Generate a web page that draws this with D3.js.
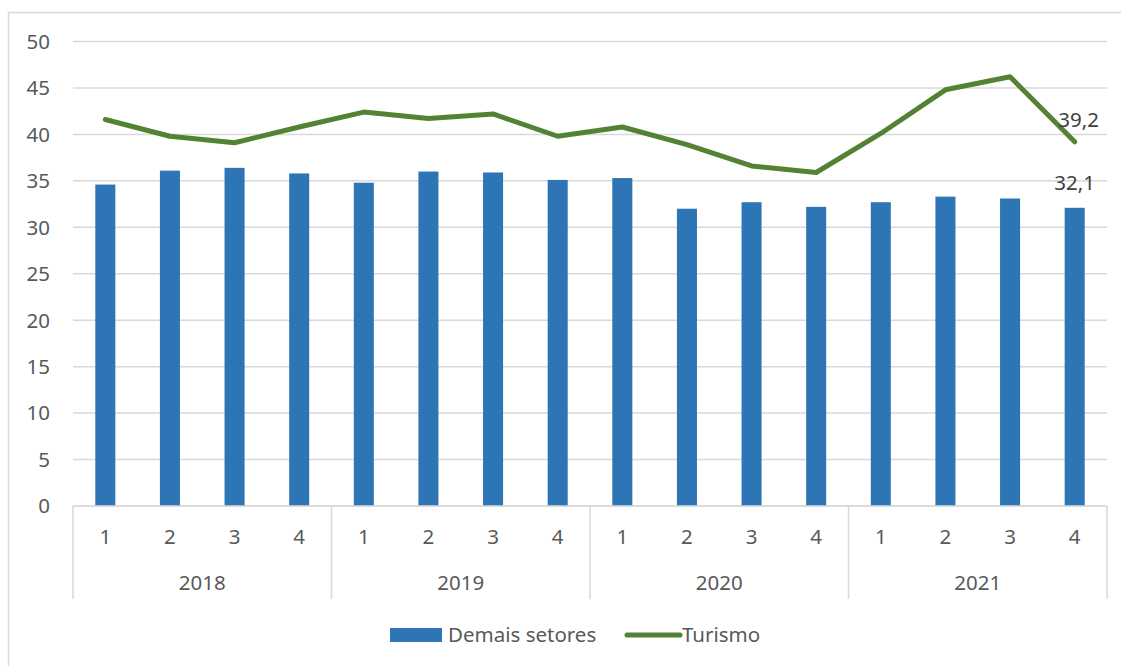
<!DOCTYPE html>
<meta charset="utf-8">
<style>

body {
  margin: 0;
  background: #fff;
}

svg text {
  font-family: "Noto Sans", "Open Sans", sans-serif;
  fill: #595959;
}

.grid line {
  stroke: #d9d9d9;
  stroke-width: 1.5;
}

</style>

<body>
  <svg width="1121" height="666"></svg>

  <script src="https://cdn.jsdelivr.net/npm/d3@7"></script>
  <script>

  var years = ["2018", "2019", "2020", "2021"];
  var quarters = ["1", "2", "3", "4"];

  // Demais setores (bars)
  var demais = [34.6, 36.1, 36.4, 35.8, 34.8, 36.0, 35.9, 35.1,
                35.3, 32.0, 32.7, 32.2, 32.7, 33.3, 33.1, 32.1];

  // Turismo (line)
  var turismo = [41.6, 39.8, 39.1, 40.8, 42.4, 41.7, 42.2, 39.8,
                 40.8, 38.9, 36.6, 35.9, 40.1, 44.8, 46.2, 39.2];

  var yTicks = [0, 5, 10, 15, 20, 25, 30, 35, 40, 45, 50];

  var svg = d3.select("svg"),
      margin = {top: 41.5, left: 73, right: 14},
      width = +svg.attr("width") - margin.left - margin.right,
      height = 506 - margin.top,
      fs = "20.5px";

  var ptFormat = d3.formatLocale({decimal: ",", thousands: ".", grouping: [3], currency: ["R$", ""]}).format(".1f");

  // outer chart border
  svg.append("rect")
      .attr("x", 8.5)
      .attr("y", 12.5)
      .attr("width", 1140)
      .attr("height", 700)
      .attr("fill", "none")
      .attr("stroke", "#d9d9d9")
      .attr("stroke-width", 1.5);

  var cats = [];
  years.forEach(function(yr) {
    quarters.forEach(function(q) { cats.push(yr + "-" + q); });
  });

  var x = d3.scaleBand()
      .domain(cats)
      .range([0, width])
      .padding(0);

  var y = d3.scaleLinear()
      .domain([0, 50])
      .range([height, 0]);

  var g = svg.append("g")
      .attr("transform", "translate(" + margin.left + "," + margin.top + ")");

  // gridlines
  g.append("g")
      .attr("class", "grid")
    .selectAll("line")
    .data(yTicks)
    .enter().append("line")
      .attr("x1", 0)
      .attr("x2", width)
      .attr("y1", function(d) { return y(d); })
      .attr("y2", function(d) { return y(d); });

  // y axis labels
  g.append("g")
      .selectAll("text")
      .data(yTicks)
      .enter().append("text")
        .attr("x", -23)
        .attr("y", function(d) { return y(d); })
        .attr("dy", "0.36em")
        .attr("text-anchor", "end")
        .style("font-size", fs)
        .text(function(d) { return d; });

  // bars
  var barW = x.bandwidth() * 0.31;
  g.append("g")
    .selectAll("rect")
    .data(demais)
    .enter().append("rect")
      .attr("x", function(d, i) { return x(cats[i]) + x.bandwidth() / 2 - barW / 2; })
      .attr("y", function(d) { return y(d); })
      .attr("width", barW)
      .attr("height", function(d) { return height - y(d); })
      .attr("fill", "#2e75b6");

  // line
  var line = d3.line()
      .x(function(d, i) { return x(cats[i]) + x.bandwidth() / 2; })
      .y(function(d) { return y(d); });

  g.append("path")
      .datum(turismo)
      .attr("fill", "none")
      .attr("stroke", "#548235")
      .attr("stroke-width", 5)
      .attr("stroke-linejoin", "round")
      .attr("stroke-linecap", "round")
      .attr("d", line);

  // data labels for last point
  var last = cats.length - 1,
      lastX = x(cats[last]) + x.bandwidth() / 2;

  g.append("text")
      .attr("x", lastX + 4)
      .attr("y", y(turismo[last]) - 22)
      .attr("dy", "0.36em")
      .attr("text-anchor", "middle")
      .style("font-size", fs)
      .style("fill", "#404040")
      .text(ptFormat(turismo[last]));

  g.append("text")
      .attr("x", lastX)
      .attr("y", y(demais[last]) - 25)
      .attr("dy", "0.36em")
      .attr("text-anchor", "middle")
      .style("font-size", fs)
      .style("fill", "#404040")
      .text(ptFormat(demais[last]));

  // category axis (two levels)
  var xa = g.append("g")
      .attr("class", "grid")
      .attr("transform", "translate(0," + height + ")");

  xa.append("line")
      .attr("x1", 0)
      .attr("x2", width)
      .attr("y1", 0)
      .attr("y2", 0);

  var yearW = x.bandwidth() * quarters.length;
  xa.selectAll(".sep")
    .data(d3.range(years.length + 1))
    .enter().append("line")
      .attr("class", "sep")
      .attr("x1", function(d) { return d * yearW; })
      .attr("x2", function(d) { return d * yearW; })
      .attr("y1", 0)
      .attr("y2", 93);

  xa.selectAll(".qlab")
    .data(cats)
    .enter().append("text")
      .attr("class", "qlab")
      .attr("x", function(d) { return x(d) + x.bandwidth() / 2; })
      .attr("y", 31)
      .attr("dy", "0.36em")
      .attr("text-anchor", "middle")
      .style("font-size", fs)
      .text(function(d) { return d.split("-")[1]; });

  xa.selectAll(".ylab")
    .data(years)
    .enter().append("text")
      .attr("class", "ylab")
      .attr("x", function(d, i) { return i * yearW + yearW / 2; })
      .attr("y", 77)
      .attr("dy", "0.36em")
      .attr("text-anchor", "middle")
      .style("font-size", fs)
      .text(function(d) { return d; });

  // legend
  var legend = svg.append("g")
      .attr("transform", "translate(390,635)");

  legend.append("rect")
      .attr("x", 0)
      .attr("y", -7)
      .attr("width", 52)
      .attr("height", 14)
      .attr("fill", "#2e75b6");

  legend.append("text")
      .attr("x", 58)
      .attr("y", 0)
      .attr("dy", "0.36em")
      .style("font-size", fs)
      .text("Demais setores");

  legend.append("line")
      .attr("x1", 237)
      .attr("x2", 290)
      .attr("y1", 0)
      .attr("y2", 0)
      .attr("stroke", "#548235")
      .attr("stroke-width", 5)
      .attr("stroke-linecap", "round");

  legend.append("text")
      .attr("x", 292)
      .attr("y", 0)
      .attr("dy", "0.36em")
      .style("font-size", fs)
      .text("Turismo");

  </script>
</body>
